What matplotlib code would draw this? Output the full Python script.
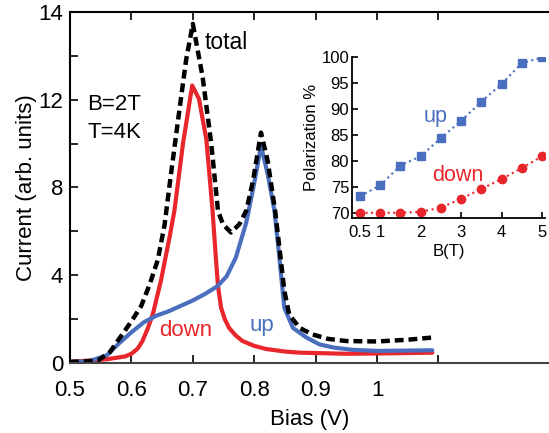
import numpy as np
import matplotlib
matplotlib.use('Agg')
import matplotlib.pyplot as plt

plt.rcParams['font.family'] = ['Liberation Sans', 'DejaVu Sans']

# Main panel: current vs bias (y in axis units, labelled oddly in the source)
bias_down = [0.50, 0.56, 0.59, 0.60, 0.61, 0.618, 0.627, 0.635, 0.648, 0.662, 0.670, 0.684,
             0.699, 0.710, 0.722, 0.732, 0.737, 0.741, 0.746, 0.752, 0.759, 0.770, 0.781,
             0.800, 0.819, 0.850, 0.874, 0.95, 1.02, 1.09]
cur_down = [0.05, 0.17, 0.30, 0.42, 0.65, 1.0, 1.6, 2.24, 3.74, 5.72, 6.94, 10.0,
            12.65, 12.04, 10.2, 7.0, 5.0, 3.5, 2.52, 2.0, 1.6, 1.25, 1.0,
            0.78, 0.64, 0.52, 0.47, 0.42, 0.44, 0.47]

bias_up = [0.50, 0.53, 0.56, 0.58, 0.60, 0.62, 0.64, 0.66, 0.68, 0.70, 0.72, 0.74,
           0.755, 0.770, 0.787, 0.800, 0.811, 0.822, 0.833, 0.841, 0.849, 0.863, 0.885,
           0.906, 0.93, 0.96, 1.0, 1.09]
cur_up = [0.05, 0.07, 0.35, 0.9, 1.4, 1.85, 2.15, 2.35, 2.6, 2.85, 3.15, 3.5,
          3.95, 4.8, 6.4, 8.2, 9.9, 8.6, 6.94, 4.8, 2.52, 1.6, 1.16,
          0.85, 0.7, 0.6, 0.55, 0.58]

bias_tot = [0.50, 0.545, 0.565, 0.585, 0.600, 0.616, 0.630, 0.643, 0.654, 0.663, 0.678, 0.689,
            0.700, 0.716, 0.730, 0.741, 0.749, 0.762, 0.776, 0.787, 0.798, 0.811, 0.822,
            0.834, 0.841, 0.849, 0.857, 0.874, 0.895, 0.92, 0.95, 1.0, 1.05, 1.09]
cur_tot = [0.05, 0.1, 0.5, 1.3, 1.9, 2.6, 3.6, 4.7, 6.3, 8.3, 11.5, 13.8,
           15.46, 13.03, 10.0, 6.94, 6.33, 5.95, 6.33, 6.94, 8.3, 10.5, 9.2,
           6.94, 5.26, 3.3, 2.2, 1.6, 1.3, 1.1, 1.0, 0.98, 1.06, 1.16]

y_ticks = [0, 4, 8, 12, 16]
y_labels = ['0', '4', '8', '12', '14']
x_ticks = [0.5, 0.6, 0.7, 0.8, 0.9, 1.0, 1.1]
x_labels = ['0.5', '0.6', '0.7', '0.8', '0.9', '1', '']

# Inset: polarization vs field
field = [0.5, 1.0, 1.5, 2.0, 2.5, 3.0, 3.5, 4.0, 4.5, 5.0]
pol_up = [73.2, 75.3, 79.1, 80.9, 84.4, 87.7, 91.4, 94.8, 98.8, 99.9]
pol_down = [70.0, 70.0, 70.0, 70.2, 71.0, 72.7, 74.6, 76.5, 78.6, 80.9]

red = '#e8262b'
blue = '#4a6fbf'

fig = plt.figure(figsize=(5.49, 4.33), dpi=100)
ax = fig.add_axes([0.1275, 0.1617, 0.8725, 0.8106])

ax.plot(bias_down, cur_down, color=red, lw=3.0, solid_capstyle='round', solid_joinstyle='round')
ax.plot(bias_up, cur_up, color=blue, lw=3.0, solid_capstyle='round', solid_joinstyle='round')
ax.plot(bias_tot, cur_tot, color='black', lw=3.2, ls=(0, (2.0, 1.1)))

ax.set_xlim(0.5, 1.28)
ax.set_ylim(0, 16)
ax.set_xticks(x_ticks)
ax.set_xticklabels(x_labels)
ax.set_yticks(y_ticks)
ax.set_yticklabels(y_labels)
ax.set_yticks([2, 6, 10, 14], minor=True)
ax.tick_params(axis='both', direction='in', labelsize=16, length=6, width=1.2, top=True)
ax.tick_params(axis='x', pad=12)
ax.tick_params(axis='y', pad=5)
ax.tick_params(axis='y', which='minor', direction='in', length=6, width=1.2)
ax.spines['right'].set_visible(False)
for s in ['left', 'bottom', 'top']:
    ax.spines[s].set_linewidth(1.5)
ax.spines['bottom'].set_color('#444444')

ax.set_xlabel('Bias (V)', fontsize=16, labelpad=6)
ax.set_ylabel('Current (arb. units)', fontsize=16, labelpad=1)

ax.text(0.719, 14.6, 'total', fontsize=16.5, ha='left', va='center')
ax.text(0.528, 11.8, 'B=2T', fontsize=16, ha='left', va='center')
ax.text(0.528, 10.5, 'T=4K', fontsize=16, ha='left', va='center')
ax.text(0.688, 1.46, 'down', fontsize=16, color=red, ha='center', va='center')
ax.text(0.812, 1.69, 'up', fontsize=16, color=blue, ha='center', va='center')

# inset
ins = fig.add_axes([0.641, 0.4965, 0.3515, 0.372])
ins.plot(field, pol_up, color=blue, ls=':', lw=1.5, marker='s', ms=6)
ins.plot(field, pol_down, color=red, ls=':', lw=1.5, marker='o', ms=6)
ins.set_xlim(0.3, 5.07)
ins.set_ylim(69, 100)
ins.set_xticks([0.5, 1, 2, 3, 4, 5])
ins.set_xticklabels(['0.5', '1', '2', '3', '4', '5'])
ins.set_yticks([70, 75, 80, 85, 90, 95, 100])
ins.tick_params(direction='in', labelsize=12, length=4, width=1.2)
ins.tick_params(axis='x', pad=5)
ins.tick_params(axis='y', pad=2)
ins.spines['right'].set_visible(False)
ins.spines['top'].set_visible(False)
ins.spines['left'].set_linewidth(1.3)
ins.spines['bottom'].set_linewidth(1.3)
ins.patch.set_alpha(0)
ins.set_xlabel('B(T)', fontsize=12, labelpad=3)
ins.set_ylabel('Polarization %', fontsize=12, labelpad=2)
ins.text(2.38, 88.5, 'up', fontsize=15.5, color=blue, ha='center', va='center')
ins.text(2.92, 77.1, 'down', fontsize=15.5, color=red, ha='center', va='center')

fig.savefig('out.png', dpi=100)
